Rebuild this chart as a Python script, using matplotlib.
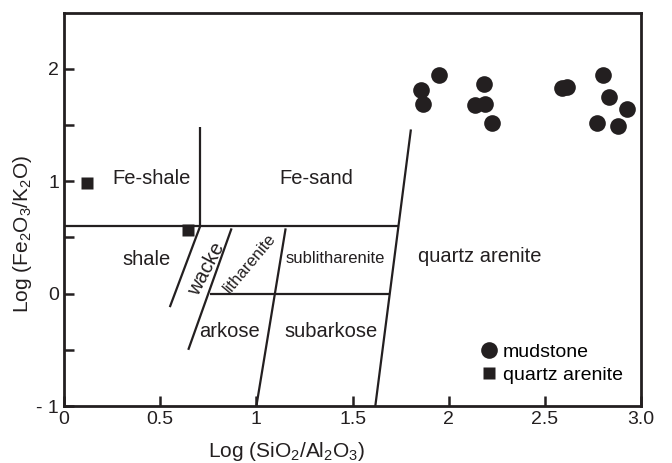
import matplotlib
matplotlib.use("Agg")
import matplotlib.pyplot as plt

plt.rcParams['font.family'] = ['Liberation Sans', 'DejaVu Sans']
plt.rcParams['mathtext.fontset'] = 'custom'
plt.rcParams['mathtext.rm'] = 'Liberation Sans'
plt.rcParams['mathtext.default'] = 'regular'

# mudstone samples
mud_x = [1.950, 1.855, 1.864, 2.184, 2.135, 2.190, 2.227, 2.590, 2.615,
         2.802, 2.833, 2.928, 2.770, 2.879]
mud_y = [1.944, 1.810, 1.690, 1.864, 1.677, 1.690, 1.520, 1.830, 1.835,
         1.944, 1.750, 1.640, 1.520, 1.490]

# quartz arenite samples
qa_x = [0.121, 0.646]
qa_y = [0.988, 0.564]

# classification boundaries (Herron 1988)
boundaries = [
    ([0.0, 1.735], [0.6, 0.6]),
    ([0.708, 0.708], [0.6, 1.48]),
    ([0.708, 0.55], [0.6, -0.12]),
    ([0.871, 0.646], [0.58, -0.50]),
    ([0.758, 1.69], [0.0, 0.0]),
    ([1.152, 1.0], [0.58, -1.0]),
    ([1.803, 1.618], [1.46, -1.0]),
]

# field names: (text, x, y, rotation, size)
fields = [
    ("Fe-shale", 0.455, 1.02, 0, 14.5),
    ("Fe-sand", 1.31, 1.02, 0, 14.5),
    ("shale", 0.43, 0.30, 0, 14.5),
    ("wacke", 0.741, 0.22, 62, 14.5),
    ("litharenite", 0.966, 0.267, 50, 12),
    ("sublitharenite", 1.41, 0.31, 0, 12),
    ("arkose", 0.862, -0.34, 0, 14.5),
    ("subarkose", 1.39, -0.34, 0, 14.5),
    ("quartz arenite", 2.16, 0.33, 0, 14.5),
]

fig = plt.figure(figsize=(6.72, 4.63), dpi=100)
ax = fig.add_axes([0.0952, 0.123, 0.859, 0.850])

for xs, ys in boundaries:
    ax.plot(xs, ys, color='#231f20', lw=1.6, solid_capstyle='butt')

ax.plot(mud_x, mud_y, 'o', color='#231f20', ms=12, mec='none', label='mudstone')
ax.plot(qa_x, qa_y, 's', color='#231f20', ms=8.5, mec='none', label='quartz arenite')

for txt, x, y, rot, size in fields:
    ax.text(x, y, txt, rotation=rot, fontsize=size, ha='center', va='center',
            color='#231f20', rotation_mode='anchor')

ax.set_xlim(0, 3.0)
ax.set_ylim(-1, 2.5)
ax.set_xticks([0, 0.5, 1, 1.5, 2, 2.5, 3.0])
ax.set_xticklabels(['0', '0.5', '1', '1.5', '2', '2.5', '3.0'])
ax.set_yticks([-1, -0.5, 0, 0.5, 1, 1.5, 2])
ax.set_yticklabels(['- 1', '', '0', '', '1', '', '2'])
ax.tick_params(direction='in', length=7, width=1.8, labelsize=14,
               color='#231f20', labelcolor='#231f20')
for s in ax.spines.values():
    s.set_linewidth(2)
    s.set_color('#231f20')

ax.set_xlabel('Log (SiO$_2$/Al$_2$O$_3$)', fontsize=15, color='#231f20')
ax.set_ylabel('Log (Fe$_2$O$_3$/K$_2$O)', fontsize=15, color='#231f20')
ax.xaxis.set_label_coords(0.385, -0.086)
ax.yaxis.set_label_coords(-0.052, 0.438)

ax.legend(loc='upper left', frameon=False, fontsize=14, handlelength=0.8,
          handletextpad=0.3, labelspacing=0.29, borderpad=0, borderaxespad=0,
          bbox_to_anchor=(0.723, 0.16))

fig.savefig('out.png', dpi=100)
